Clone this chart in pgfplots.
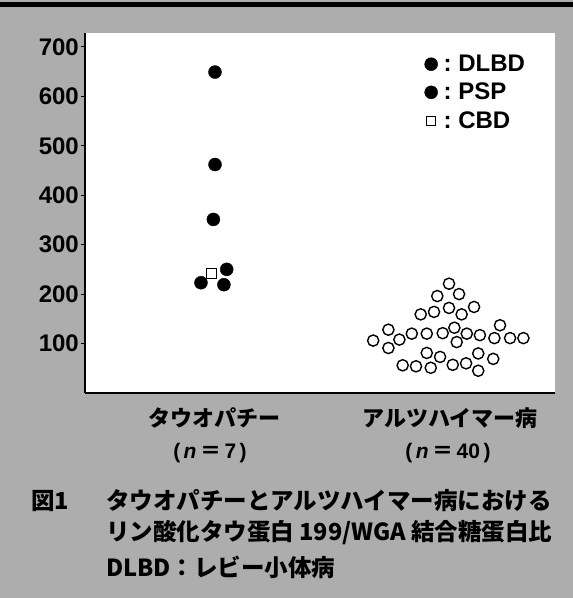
\documentclass[border=0pt]{standalone}
\usepackage{fontspec}
\setmainfont{Liberation Sans}
\newfontfamily\jp{Noto Sans CJK JP}
\usepackage{pgfplots}
\pgfplotsset{compat=1.18}
\definecolor{bg}{gray}{0.68}
\begin{document}
\begin{tikzpicture}[x=1pt,y=1pt]
\fill[bg] (0,0) rectangle (573,598);
\fill[black] (0,591) rectangle (573,596);
\begin{axis}[
  at={(85pt,205pt)}, anchor=south west,
  width=470pt, height=360pt, scale only axis,
  xmin=0.4444, xmax=2.453, ymin=0, ymax=728,
  axis x line*=bottom, axis y line*=left,
  axis line style={line width=1.8pt,-},
  axis background/.style={fill=white},
  xtick=\empty,
  ytick={100,200,...,700},
  tick align=outside, major tick length=4pt,
  tick style={line width=1pt, black},
  /pgf/number format/assume math mode=true,
  yticklabel style={font=\fontsize{24}{24}\selectfont\bfseries, inner sep=2pt, xshift=0pt},
  clip=false,
  legend style={at={(0.718,0.950)}, anchor=north west, draw=none, fill=none,
    font=\fontsize{24}{28}\selectfont\bfseries, row sep=6pt, inner sep=2pt},
  legend cell align=left,
]
% CBD (drawn first, behind dots)
\addplot[only marks, mark=square, mark size=5pt, mark options={line width=1pt, fill=white}, black, forget plot]
  coordinates {(0.987,242)};
% DLBD
\addplot[only marks, mark=*, mark size=6.5pt, black]
  coordinates {(1.000,649) (1.000,462) (0.993,351)};
\addlegendentry{\,:\ DLBD}
% PSP
\addplot[only marks, mark=*, mark size=6.5pt, black]
  coordinates {(1.050,250) (0.940,223) (1.038,219)};
\addlegendentry{\,:\ PSP}
\addlegendimage{only marks, mark=square, mark size=4.5pt, mark options={line width=1pt, fill=white}, black}
\addlegendentry{\,:\ CBD}
% Alzheimer
\addplot[only marks, mark=o, mark size=5.6pt, mark options={line width=1.4pt}, black, forget plot]
  coordinates {
  (2.000,221) (1.950,196) (2.043,200) (1.879,159) (1.936,164) (2.000,172) (2.054,159) (2.107,174)
  (1.676,106) (1.741,128) (1.788,108) (1.741,91) (1.841,120) (1.905,120) (1.973,121) (2.023,132)
  (2.076,120) (2.033,103) (2.132,117) (2.194,111) (2.218,137) (2.261,111) (2.318,111)
  (1.905,81) (1.962,73) (1.802,56) (1.859,54) (1.922,51) (2.016,57) (2.073,60) (2.125,80)
  (2.125,45) (2.189,69)
  };
\end{axis}
\begin{scope}[every node/.style={inner sep=0pt}]
\node[font=\fontsize{22}{22}\selectfont\jp\bfseries] at (214,180) {タウオパチー};
\node[font=\fontsize{22}{22}\selectfont\jp\bfseries] at (450,180) {アルツハイマー病};
\node[font=\fontsize{21}{21}\selectfont\bfseries] at (210,145) {(\,\textit{n}\,{\jp＝}\,7\,)};
\node[font=\fontsize{21}{21}\selectfont\bfseries] at (448,145) {(\,\textit{n}\,{\jp＝}\,40\,)};
\node[anchor=west, font=\fontsize{23.5}{23.5}\selectfont\jp\bfseries] at (31,97) {図1};
\node[anchor=west, font=\fontsize{23.5}{23.5}\selectfont\jp\bfseries] at (106,97) {タウオパチーとアルツハイマー病における};
\node[anchor=west, font=\fontsize{23.5}{23.5}\selectfont\jp\bfseries] at (106,65) {リン酸化タウ蛋白 199/WGA 結合糖蛋白比};
\node[anchor=west, font=\fontsize{23.5}{23.5}\selectfont\jp\bfseries] at (106,31) {DLBD：レビー小体病};
\end{scope}
\end{tikzpicture}
\end{document}
